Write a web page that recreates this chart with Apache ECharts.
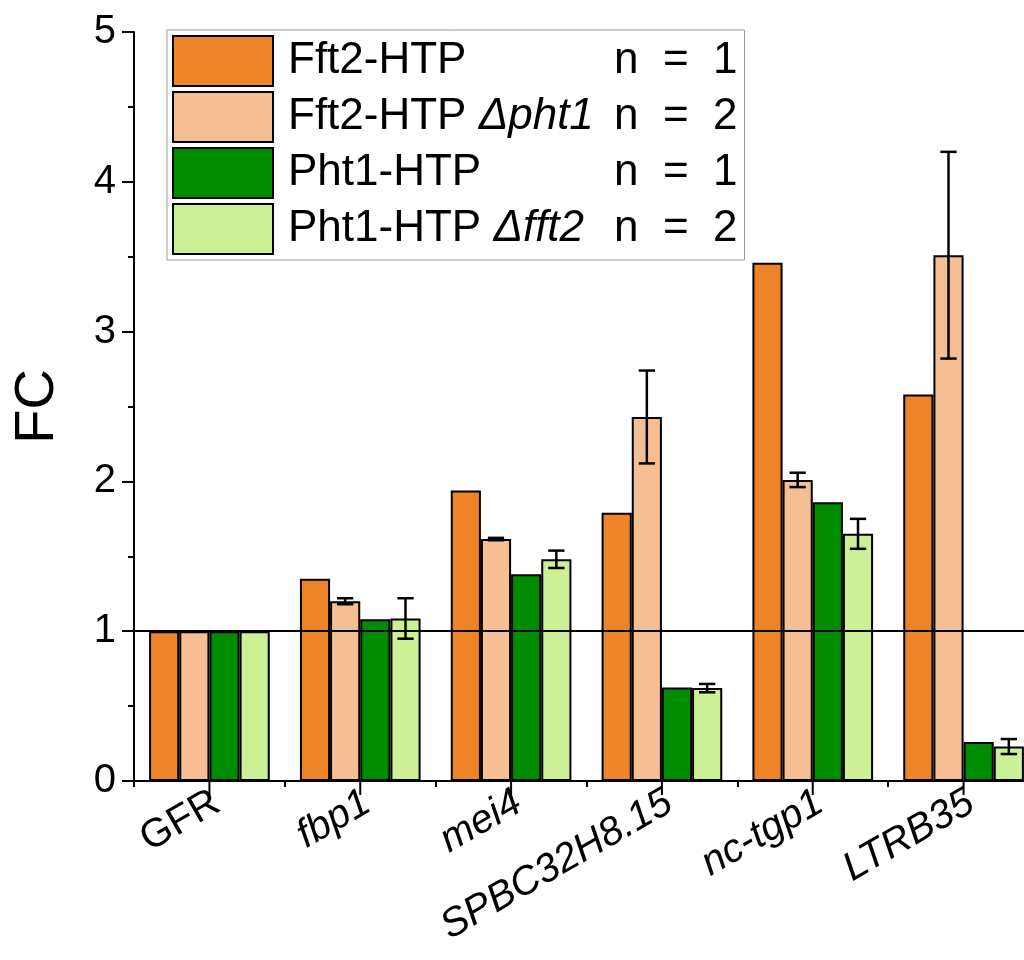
<!DOCTYPE html>
<html>
<head>
<meta charset="utf-8">
<script src="https://cdn.jsdelivr.net/npm/echarts@6/dist/echarts.min.js"></script>
<style>
  html, body { margin: 0; padding: 0; background: #fff; overflow: hidden; }
  /* plot runs slightly past the right edge, as in the figure */
  #chart { width: 1040px; height: 960px; }
</style>
</head>
<body>
<div id="chart"></div>
<script>
// data
var categories = ['GFR', 'fbp1', 'mei4', 'SPBC32H8.15', 'nc-tgp1', 'LTRB35'];
var fft2 = [1, 1.35, 1.94, 1.79, 3.46, 2.58];
var fft2Dpht1 = [1, 1.20, 1.615, 2.43, 2.01, 3.51];
var fft2Dpht1Err = [0, 0.02, 0.008, 0.31, 0.048, 0.69];
var pht1 = [1, 1.08, 1.38, 0.625, 1.86, 0.26];
var pht1Dfft2 = [1, 1.085, 1.48, 0.62, 1.65, 0.23];
var pht1Dfft2Err = [0, 0.135, 0.058, 0.028, 0.1, 0.05];
var yTicks = [0, 1, 2, 3, 4, 5];

var names = ['Fft2-HTP', 'Fft2-HTP Δpht1', 'Pht1-HTP', 'Pht1-HTP Δfft2'];
var nCounts = [1, 2, 1, 2];
var colors = ['#EE8428', '#F6BE93', '#008C00', '#CCF096'];

var FONT = 'Liberation Sans, Arial, sans-serif';
var LEG_SIZE = 44;
var NAME_W = 326;

// measure plain part so the n column lines up
var ctx = document.createElement('canvas').getContext('2d');
ctx.font = LEG_SIZE + 'px ' + FONT;
function textW(s) { return ctx.measureText(s).width; }

var myChart = echarts.init(document.getElementById('chart'));

function errorSeries(k, vals, errs) {
  return {
    type: 'custom',
    name: names[k] + ' err',
    z: 5,
    silent: true,
    data: vals.map(function (v, i) { return [i, v, errs[i]]; }),
    renderItem: function (params, api) {
      var i = api.value(0), v = api.value(1), e = api.value(2);
      if (!e) return null;
      var band = api.size([1, 0])[0];
      var bw = band * 0.2;
      var c = api.coord([i, v]);
      var cx = c[0] + (k - 1.5) * bw;
      var top = api.coord([i, v + e])[1];
      var bot = api.coord([i, v - e])[1];
      var hw = bw * 0.27;
      var st = { stroke: '#000', lineWidth: 2.5 };
      return {
        type: 'group',
        children: [
          { type: 'line', shape: { x1: cx, y1: top, x2: cx, y2: bot }, style: st },
          { type: 'line', shape: { x1: cx - hw, y1: top, x2: cx + hw, y2: top }, style: st },
          { type: 'line', shape: { x1: cx - hw, y1: bot, x2: cx + hw, y2: bot }, style: st }
        ]
      };
    }
  };
}

var barData = [fft2, fft2Dpht1, pht1, pht1Dfft2];
var series = barData.map(function (d, k) {
  var s = {
    name: names[k],
    type: 'bar',
    data: d,
    barGap: '0%',
    barCategoryGap: '20%',
    itemStyle: { color: colors[k], borderColor: '#000', borderWidth: 2 }
  };
  if (k === 0) {
    s.markLine = {
      silent: true,
      symbol: 'none',
      label: { show: false },
      lineStyle: { color: '#000', width: 2, type: 'solid' },
      data: [{ yAxis: 1 }],
      z: 4
    };
  }
  return s;
});
series.push(errorSeries(1, fft2Dpht1, fft2Dpht1Err));
series.push(errorSeries(3, pht1Dfft2, pht1Dfft2Err));

// long tick under each category centre (below the axis line)
series.push({
  type: 'custom',
  name: 'ticks',
  silent: true,
  clip: false,
  z: 6,
  data: categories.map(function (c, i) { return [i, yTicks[0]]; }),
  renderItem: function (params, api) {
    var p = api.coord([api.value(0), api.value(1)]);
    return {
      type: 'line',
      shape: { x1: p[0], y1: p[1], x2: p[0], y2: p[1] + 14 },
      style: { stroke: '#000', lineWidth: 2 }
    };
  }
});

// legend rich styles, one head width per row
var legRich = {
  a: { fontSize: LEG_SIZE, fontFamily: FONT, color: '#000', width: NAME_W, padding: [0, 0, 0, 10] },
  n: { fontSize: LEG_SIZE, fontFamily: FONT, color: '#000' }
};
names.forEach(function (name, k) {
  var sp = name.indexOf(' Δ');
  if (sp < 0) return;
  var head = name.slice(0, sp + 1);
  var hw = textW(head);
  legRich['h' + k] = { fontSize: LEG_SIZE, fontFamily: FONT, color: '#000', width: hw, padding: [0, 0, 0, 10] };
  legRich['i' + k] = { fontSize: LEG_SIZE, fontFamily: FONT, fontStyle: 'italic', color: '#000', width: NAME_W - hw };
});

option = {
  backgroundColor: '#fff',
  animation: false,
  textStyle: { fontFamily: FONT },
  grid: { left: 134, top: 32, bottom: 179, right: 1, containLabel: false, outerBoundsMode: 'none' },
  legend: {
    data: names,
    orient: 'vertical',
    left: 167,
    top: 30,
    itemWidth: 100,
    itemHeight: 50,
    itemGap: 4,
    padding: [5, 7, 5, 5],
    borderColor: '#999',
    borderWidth: 1,
    icon: 'rect',
    itemStyle: { borderColor: '#000', borderWidth: 2 },
    selectedMode: false,
    formatter: function (name) {
      var k = names.indexOf(name);
      var n = '{n|n  =  ' + nCounts[k] + '}';
      var sp = name.indexOf(' Δ');
      if (sp < 0) return '{a|' + name + '}' + n;
      return '{h' + k + '|' + name.slice(0, sp + 1) + '}{i' + k + '|' + name.slice(sp + 1) + '}' + n;
    },
    textStyle: { rich: legRich }
  },
  xAxis: {
    // short ticks on the category boundaries; long ones come from the 'ticks' series
    type: 'category',
    data: categories,
    axisLine: { show: true, lineStyle: { color: '#000', width: 2 } },
    axisTick: { show: true, inside: false, length: 6, lineStyle: { color: '#000', width: 2 } },
    axisLabel: {
      rotate: 30,
      margin: 6,
      interval: 0,
      // blank first line pushes the rotated text down-right of its tick
      formatter: function (v) {
        return '{e| }\n' + (v === 'GFR' ? '{n|' + v + '}' : '{i|' + v + '}');
      },
      rich: {
        e: { fontSize: 10, lineHeight: 30 },
        n: { fontSize: 40, fontFamily: FONT, color: '#000' },
        i: { fontSize: 40, fontFamily: FONT, fontStyle: 'italic', color: '#000' }
      }
    }
  },
  yAxis: {
    type: 'value',
    min: yTicks[0],
    max: yTicks[yTicks.length - 1],
    interval: 1,
    name: 'FC',
    nameLocation: 'middle',
    nameGap: 68,
    nameTextStyle: { fontSize: 56, fontFamily: FONT, color: '#000' },
    axisLine: { show: true, onZero: false, lineStyle: { color: '#000', width: 2 } },
    axisTick: { show: true, length: 12, lineStyle: { color: '#000', width: 2 } },
    minorTick: { show: true, splitNumber: 2, length: 6, lineStyle: { color: '#000', width: 2 } },
    splitLine: { show: false },
    axisLabel: { fontSize: 40, color: '#000', margin: 18, fontFamily: FONT }
  },
  series: series
};

myChart.setOption(option);
</script>
</body>
</html>
